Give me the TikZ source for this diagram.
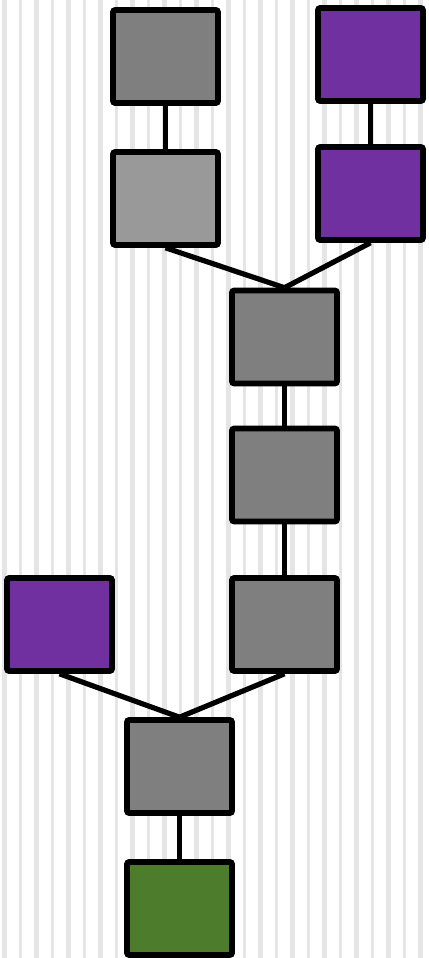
\documentclass[tikz,border=0pt]{standalone}
\definecolor{boxgray}{HTML}{7F7F7F}
\definecolor{boxlight}{HTML}{999999}
\definecolor{boxpurple}{HTML}{7030A0}
\definecolor{boxgreen}{HTML}{4C7C2C}
\definecolor{stripegray}{HTML}{E5E5E5}
\tikzset{
  block/.style={draw=black, line width=1.4mm, rounded corners=0.5mm,
    minimum width=26.25mm, minimum height=23.25mm, inner sep=0pt},
  link/.style={line width=1.3mm},
  stripe/.style={fill=stripegray}
}
\begin{document}
\begin{tikzpicture}[x=0.25mm, y=-0.25mm]
    \useasboundingbox (0,0) rectangle (428,958);
    \fill[white] (0,0) rectangle (428,958);
    \foreach \k in {0,...,13} {
        \fill[stripe] (2+32*\k,0) rectangle ++(4.5,958);
    }
    \foreach \k in {0,...,12} {
        \fill[stripe] (19+32*\k,0) rectangle ++(2.5,958);
    }
    \node[block, fill=boxgray] (src1) at (165.5,56.5) {};
    \node[block, fill=boxpurple] (src2) at (370.5,54.5) {};
    \node[block, fill=boxlight] (prep1) at (165.5,198.5) {};
    \node[block, fill=boxpurple] (prep2) at (370.5,193.5) {};
    \node[block, fill=boxgray] (merge) at (284.5,337) {};
    \node[block, fill=boxgray] (step1) at (284.5,475) {};
    \node[block, fill=boxpurple] (side) at (59.5,624.5) {};
    \node[block, fill=boxgray] (step2) at (284.5,624.5) {};
    \node[block, fill=boxgray] (join) at (179.5,766.5) {};
    \node[block, fill=boxgreen] (out) at (179.5,908.5) {};
    \draw[link] (src1.south) -- (prep1.north);
    \draw[link] (src2.south) -- (prep2.north);
    \draw[link] (prep1.south) -- (merge.north);
    \draw[link] (prep2.south) -- (merge.north);
    \draw[link] (merge.south) -- (step1.north);
    \draw[link] (step1.south) -- (step2.north);
    \draw[link] (side.south) -- (join.north);
    \draw[link] (step2.south) -- (join.north);
    \draw[link] (join.south) -- (out.north);
\end{tikzpicture}
\end{document}
